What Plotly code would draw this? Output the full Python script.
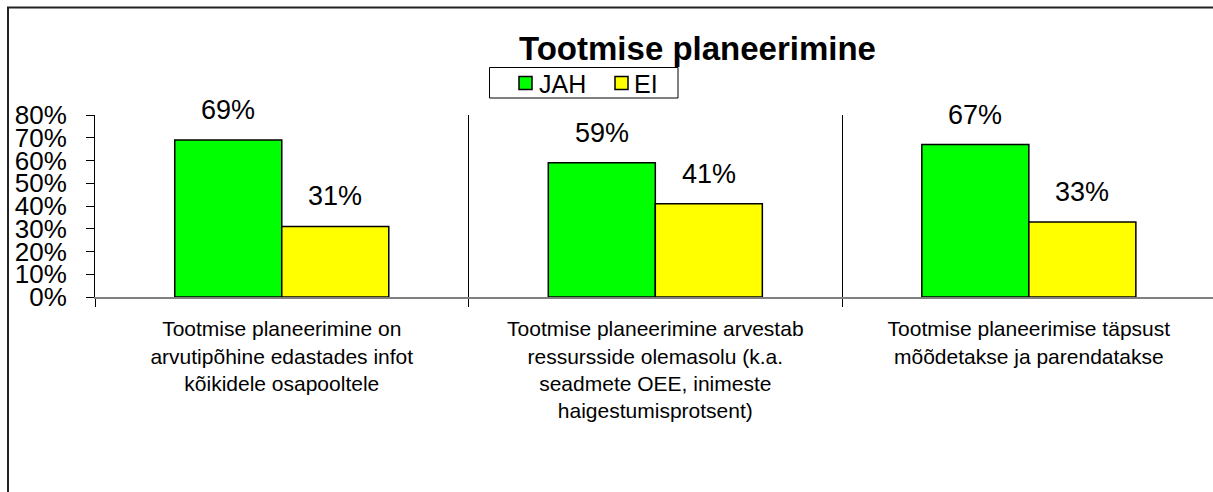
import plotly.graph_objects as go

# ---- data ----
category_lines = [
    ["Tootmise planeerimine on", "arvutipõhine edastades infot", "kõikidele osapooltele"],
    ["Tootmise planeerimine arvestab", "ressursside olemasolu (k.a.", "seadmete OEE, inimeste", "haigestumisprotsent)"],
    ["Tootmise planeerimise täpsust", "mõõdetakse ja parendatakse"],
]
categories = ["<br>".join(lines) for lines in category_lines]
series_names = ["JAH", "EI"]
jah_values = [0.69, 0.59, 0.67]
ei_values = [0.31, 0.41, 0.33]
y_tick_values = [0, 0.1, 0.2, 0.3, 0.4, 0.5, 0.6, 0.7, 0.8]
title_text = "Tootmise planeerimine"

# ---- style ----
colors = ["#00FF00", "#FFFF00"]
FONT = "Liberation Sans, Arial, sans-serif"
W, H = 1213, 492
M_L, M_R, M_T, M_B = 95, 0, 115, 195
PW, PH = W - M_L - M_R, H - M_T - M_B
X_RANGE = [-0.5, 2.493]
BARGAP = 0.427
bar_half_px = (1 - BARGAP) / 2 * PW / (X_RANGE[1] - X_RANGE[0]) / 2


def px(x):
    return (x - M_L) / PW


def py(y):
    return (H - M_B - y) / PH


fig = go.Figure()
for name, vals, col in zip(series_names, [jah_values, ei_values], colors):
    fig.add_trace(go.Bar(
        name=name, x=categories, y=vals,
        marker=dict(color=col, line=dict(color="black", width=1.5)),
        hoverinfo="skip", showlegend=False,
    ))

annotations = []
# data labels above bars
for s_idx, vals in enumerate([jah_values, ei_values]):
    shift = (-1 if s_idx == 0 else 1) * bar_half_px
    for cat, v in zip(categories, vals):
        annotations.append(dict(
            x=cat, y=v, xref="x", yref="y", text=f"{round(v*100)}%",
            showarrow=False, yanchor="bottom", xanchor="center",
            xshift=shift, yshift=13,
            font=dict(family=FONT, size=27, color="black"),
        ))

# outer chart frame (left and top edges visible)
shapes = [dict(
    type="rect", xref="paper", yref="paper",
    x0=px(8), x1=1.2, y0=-3, y1=py(7.5),
    line=dict(color="#222222", width=2), fillcolor="rgba(0,0,0,0)", layer="below",
)]

# legend box (boxed, horizontal, Excel style)
shapes.append(dict(
    type="rect", xref="paper", yref="paper",
    x0=px(489.5), x1=px(678), y0=py(98), y1=py(67.5),
    line=dict(color="black", width=1), fillcolor="white", layer="above",
))
legend_items = [(series_names[0], colors[0], 519, 537), (series_names[1], colors[1], 615, 632)]
for name, col, sq_x, tx in legend_items:
    shapes.append(dict(
        type="rect", xref="paper", yref="paper",
        x0=px(sq_x), x1=px(sq_x + 13), y0=py(89.5), y1=py(76.5),
        line=dict(color="black", width=1.5), fillcolor=col, layer="above",
    ))
    annotations.append(dict(
        x=px(tx), y=py(84), xref="paper", yref="paper", text=name,
        showarrow=False, xanchor="left", yanchor="middle",
        font=dict(family=FONT, size=25, color="black"),
    ))

fig.update_layout(
    width=W, height=H,
    margin=dict(l=M_L, r=M_R, t=M_T, b=M_B, pad=0, autoexpand=False),
    paper_bgcolor="white", plot_bgcolor="white",
    barmode="group", bargap=BARGAP, bargroupgap=0,
    font=dict(family=FONT, color="black"),
    title=dict(
        text=f"<b>{title_text}</b>", x=697.5 / W, xanchor="center",
        y=1 - 48 / H, yanchor="middle", yref="container",
        font=dict(family=FONT, size=33, color="black"),
    ),
    annotations=annotations,
    shapes=shapes,
    showlegend=False,
)

fig.update_xaxes(
    type="category", range=X_RANGE, automargin=False,
    tickson="boundaries", ticks="outside", ticklen=8, tickcolor="black", tickwidth=1,
    showgrid=True, gridcolor="black", gridwidth=1,
    showline=True, linecolor="#808080", linewidth=2,
    tickangle=0, tickfont=dict(family=FONT, size=21, color="black"),
    ticklabelstandoff=12,
    zeroline=False, fixedrange=True,
)
fig.update_yaxes(
    range=[0, 0.8], tickvals=y_tick_values, tickformat=".0%", automargin=False,
    ticks="outside", ticklen=8, tickcolor="black", tickwidth=1,
    showline=True, linecolor="black", linewidth=1,
    showgrid=False, zeroline=False,
    tickfont=dict(family=FONT, size=26, color="black"),
    ticklabelstandoff=14, fixedrange=True,
)

fig.write_html(
    "out.html",
    config={"displayModeBar": False},
    post_script="document.body.style.margin='0';",
)
